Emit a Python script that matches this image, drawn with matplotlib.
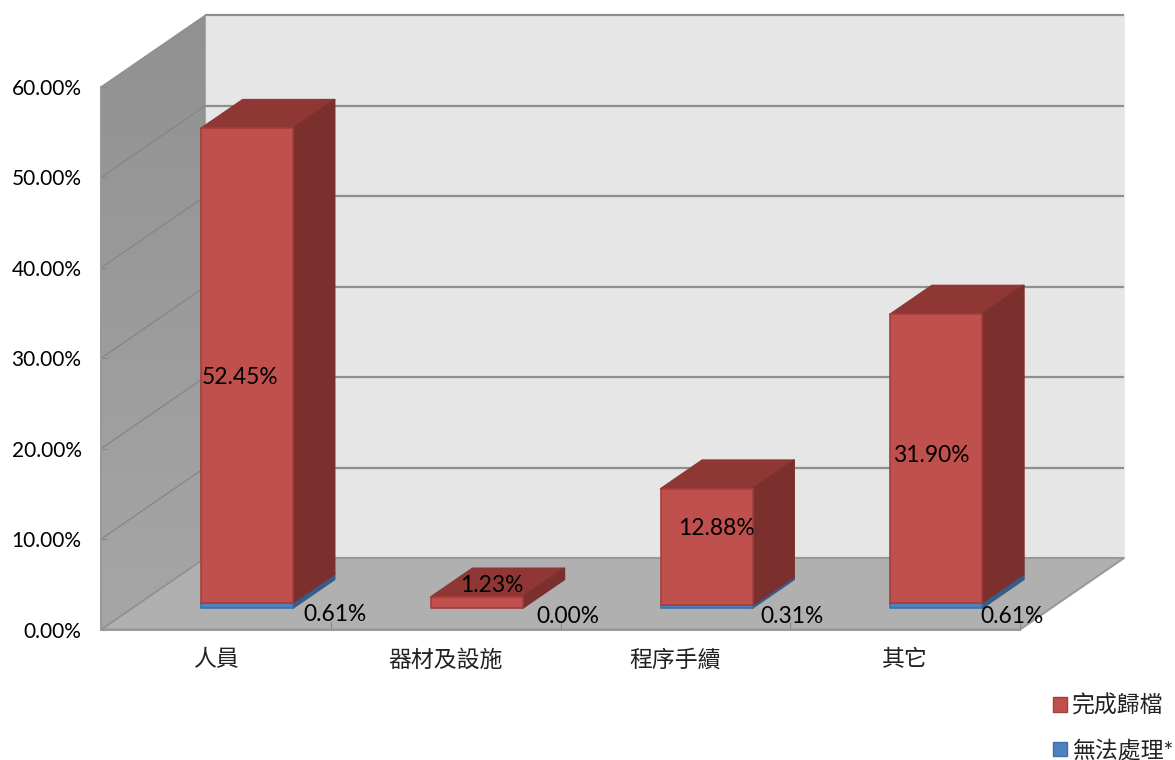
import numpy as np
import matplotlib.pyplot as plt
from matplotlib.colors import LinearSegmentedColormap
from matplotlib.patches import Patch

plt.rcParams['font.family'] = ['Lato', 'Noto Sans CJK TC', 'DejaVu Sans']

categories = ['人員', '器材及設施', '程序手續', '其它']
done = [52.45, 1.23, 12.88, 31.90]
unable = [0.61, 0.00, 0.31, 0.61]
series_names = ['完成歸檔', '無法處理*']
y_ticks = [0, 10, 20, 30, 40, 50, 60]

# label nudges, in axis units, away from the middle of each segment
done_nudge = [(0.605, 1.0), (0.702, 4.25), (0.679, 4.4), (0.617, 2.7)]
unable_nudge = [(1.02, 1.3), (1.03, 1.4), (1.007, 1.25), (0.965, 1.1)]

# oblique depth: one full depth step, in axis units
DX = 104 / 229.75
DY = 71.5 / 9.04
BAR_X0, BAR_X1 = 0.3, 0.7
BAR_D0, BAR_D1 = 0.3, 0.7

RED = ('#C0504D', '#8E3735', '#7B302E', '#A33E3B')
BLUE = ('#4F81BD', '#3F6797', '#375C88', '#3F6FA8')


def proj(x, y, d):
    return x + d * DX, y + d * DY


def face(ax, pts, color, edge=None, z=1, lw=1.2):
    xy = [proj(*p) for p in pts]
    ax.fill([p[0] for p in xy], [p[1] for p in xy], facecolor=color,
            edgecolor=edge if edge else color, linewidth=lw, zorder=z,
            clip_on=False, joinstyle='round')


def box(ax, x0, x1, y0, y1, colors, z):
    front, top, side, edge = colors
    face(ax, [(x0, y1, BAR_D0), (x1, y1, BAR_D0), (x1, y1, BAR_D1), (x0, y1, BAR_D1)], top, top, z)
    face(ax, [(x1, y0, BAR_D0), (x1, y0, BAR_D1), (x1, y1, BAR_D1), (x1, y1, BAR_D0)], side, side, z)
    face(ax, [(x0, y0, BAR_D0), (x1, y0, BAR_D0), (x1, y1, BAR_D0), (x0, y1, BAR_D0)], front, edge, z)


fig = plt.figure(figsize=(11.75, 7.6), dpi=100)
ax = fig.add_axes([101 / 1175, (760 - 629.5) / 760, 919 / 1175, 542.5 / 760])
ax.patch.set_visible(False)

# walls and floor
face(ax, [(0, 0, 1), (4, 0, 1), (4, 60, 1), (0, 60, 1)], '#E6E6E6', '#E6E6E6', 1)
face(ax, [(0, 0, 0), (4, 0, 0), (4, 0, 1), (0, 0, 1)], '#B0B0B0', '#999999', 1.1, 1.5)

wall_cmap = LinearSegmentedColormap.from_list('wall', ['#919191', '#A6A6A6'])
wall = ax.imshow(np.linspace(0, 1, 64).reshape(-1, 1), cmap=wall_cmap, vmin=0, vmax=1,
                 extent=(0, DX, 0, 60 + DY), origin='upper', aspect='auto', zorder=1.2)
wall_xy = [proj(*p) for p in [(0, 0, 0), (0, 0, 1), (0, 60, 1), (0, 60, 0)]]
wall_poly = plt.Polygon(wall_xy, closed=True, transform=ax.transData, facecolor='none',
                        edgecolor='#8F8F8F', linewidth=1.0, zorder=1.3, clip_on=False)
ax.add_patch(wall_poly)
wall.set_clip_path(wall_poly)
wall.set_clip_box(fig.bbox)

# gridlines
for v in y_ticks[1:]:
    bx, by = zip(proj(0, v, 1), proj(4, v, 1))
    ax.plot(bx, by, color='#8F8F8F', lw=1.6, zorder=1.4, clip_on=False, solid_capstyle='butt')
    if v < 60:
        lx, ly = zip(proj(0, v, 0), proj(0, v, 1))
        ax.plot(lx, ly, color='#858585', lw=0.9, zorder=1.4, clip_on=False)

# bars, stacked from the floor
for i in range(len(categories)):
    x0, x1 = i + BAR_X0, i + BAR_X1
    if unable[i] > 0:
        box(ax, x0, x1, 0, unable[i], BLUE, 3)
    box(ax, x0, x1, unable[i], unable[i] + done[i], RED, 3.1)

# data labels
for i in range(len(categories)):
    ax.text(i + done_nudge[i][0], unable[i] + done[i] / 2 + done_nudge[i][1], f'{done[i]:.2f}%',
            ha='center', va='center', fontsize=16.4, color='black', zorder=6)
    ax.text(i + unable_nudge[i][0], unable[i] / 2 + unable_nudge[i][1], f'{unable[i]:.2f}%',
            ha='center', va='center', fontsize=16.4, color='black', zorder=6)

ax.set_xlim(0, 4)
ax.set_ylim(0, 60)
ax.set_xticks(np.arange(5))
ax.set_xticklabels([])
ax.set_xticks(np.arange(len(categories)) + 0.5, categories, minor=True)
ax.set_yticks(y_ticks, [f'{v:.2f}%' for v in y_ticks])
ax.tick_params(axis='y', direction='in', length=4.5, width=0.8, color='#868686',
               pad=14, labelsize=15, labelcolor='black')
ax.tick_params(axis='x', which='major', direction='in', length=6, width=0.8, color='#8A8A8A')
ax.tick_params(axis='x', which='minor', length=0, pad=14, labelsize=16.5, labelcolor='#222222')
for s in ['top', 'right']:
    ax.spines[s].set_visible(False)
for s in ['left', 'bottom']:
    ax.spines[s].set_color('#999999')
    ax.spines[s].set_linewidth(1.4)

handles = [Patch(facecolor='#C0504D', edgecolor='#A33E3B', linewidth=1),
           Patch(facecolor='#4F81BD', edgecolor='#3F6FA8', linewidth=1)]
fig.legend(handles, series_names, loc='center right', bbox_to_anchor=(1173 / 1175, (760 - 728) / 760),
           frameon=False, fontsize=16.5, handlelength=0.58, handleheight=0.58,
           handletextpad=0.22, labelspacing=1.0, borderpad=0, borderaxespad=0, labelcolor='#222222')

fig.savefig('out.png', dpi=100)
